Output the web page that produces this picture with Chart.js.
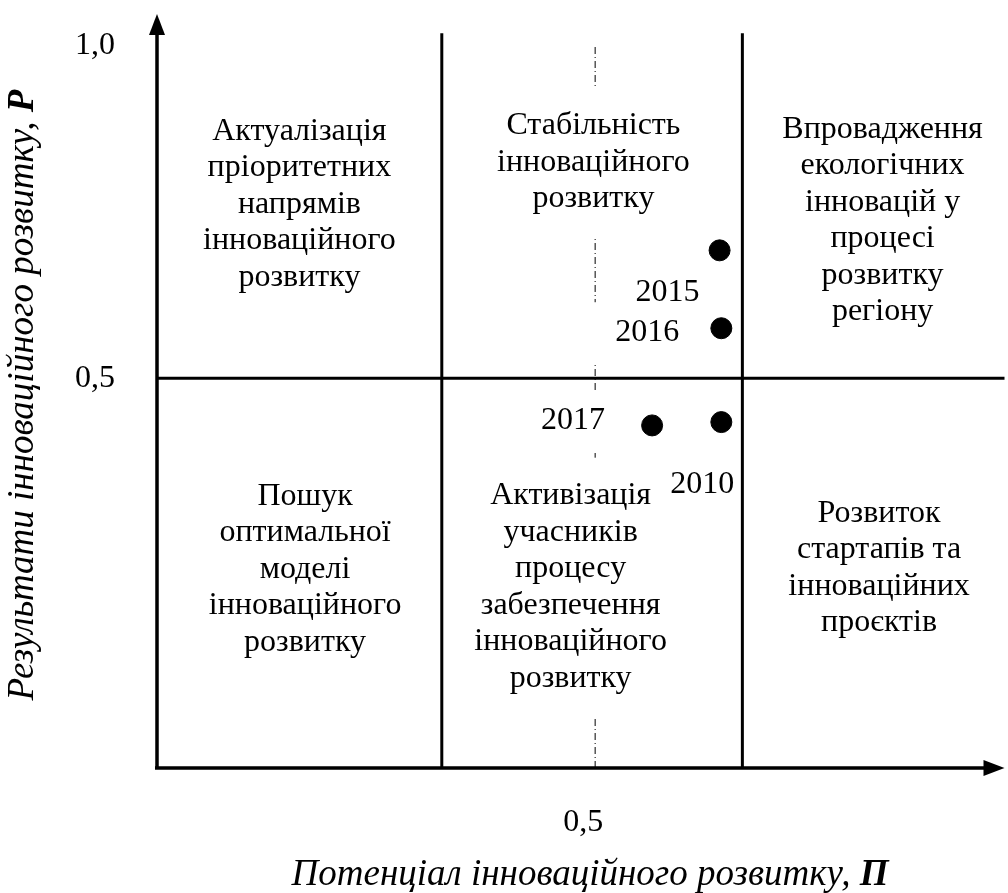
<!DOCTYPE html>
<html lang="uk">
<head>
<meta charset="utf-8">
<title>Матриця інноваційного розвитку</title>
<script src="https://cdn.jsdelivr.net/npm/chart.js"></script>
<style>
  html, body { margin: 0; padding: 0; background: #fff; }
  #wrap { width: 1008px; height: 893px; }
</style>
</head>
<body>
<div id="wrap"><canvas id="matrix" width="1008" height="893"></canvas></div>
<script>
// Роки та координати точок (П - потенціал, Р - результати)
const years = ['2015', '2016', '2017', '2010'];
const potential = [0.642, 0.644, 0.565, 0.644];
const results = [0.692, 0.575, 0.429, 0.434];

// Межі квадрантів
const xBounds = [0.325, 0.668];
const yBound = 0.5;
const midX = 0.5;

// Підписи осей
const yTicks = [0.5, 1.0];
const yTickLabels = ['0,5', '1,0'];
const xTicks = [0.5];
const xTickLabels = ['0,5'];

const yTitle = 'Результати інноваційного розвитку, ';
const yTitleBold = 'P';
const xTitle = 'Потенціал інноваційного розвитку, ';
const xTitleBold = 'П';

// Тексти квадрантів
const quadTexts = [
    ['Актуалізація', 'пріоритетних', 'напрямів', 'інноваційного', 'розвитку'],
    ['Стабільність', 'інноваційного', 'розвитку'],
    ['Впровадження', 'екологічних', 'інновацій у', 'процесі', 'розвитку', 'регіону'],
    ['Пошук', 'оптимальної', 'моделі', 'інноваційного', 'розвитку'],
    ['Активізація', 'учасників', 'процесу', 'забезпечення', 'інноваційного', 'розвитку'],
    ['Розвиток', 'стартапів та', 'інноваційних', 'проєктів']
];

// розміщення (центр блоку тексту в одиницях осей) - тільки макет
const quadPos = [
    [0.1625, 0.761], [0.498, 0.824], [0.828, 0.737],
    [0.169, 0.213], [0.472, 0.186], [0.824, 0.215]
];
const quadBox = [false, true, false, false, true, false];
// зсув підписів років від точки, px
const yearOffset = [[-52, 42], [-74, 4], [-79, -5], [-19, 63]];
const yearBox = [false, true, true, false];

const FONT = '"Liberation Serif", "Times New Roman", serif';
const FS = 32;
const TITLE_FS = 37;
const LH = 36.5;

const matrixPlugin = {
    id: 'matrix',
    beforeDatasetsDraw(chart) {
        const ctx = chart.ctx;
        const xs = chart.scales.x;
        const ys = chart.scales.y;
        const left = xs.getPixelForValue(0);
        const bottom = ys.getPixelForValue(ys.min);
        const top = ys.getPixelForValue(ys.max);
        const right = xs.getPixelForValue(xs.max);
        ctx.save();

        // пунктир посередині
        const mx = xs.getPixelForValue(midX);
        ctx.strokeStyle = '#000';
        ctx.lineWidth = 1;
        ctx.setLineDash([7, 3, 1, 3]);
        ctx.beginPath();
        ctx.moveTo(mx, bottom);
        ctx.lineTo(mx, ys.getPixelForValue(1.0));
        ctx.stroke();
        ctx.setLineDash([]);

        ctx.textAlign = 'center';
        ctx.textBaseline = 'middle';

        // тексти квадрантів
        ctx.font = FS + 'px ' + FONT;
        for (let q = 0; q < quadTexts.length; q++) {
            const lines = quadTexts[q];
            const cx = xs.getPixelForValue(quadPos[q][0]);
            const cy = ys.getPixelForValue(quadPos[q][1]);
            const h = lines.length * LH;
            if (quadBox[q]) {
                let w = 0;
                lines.forEach(l => { w = Math.max(w, ctx.measureText(l).width); });
                ctx.fillStyle = '#fff';
                ctx.fillRect(cx - w / 2 - 10, cy - h / 2 - 20, w + 20, h + 40);
            }
            ctx.fillStyle = '#000';
            lines.forEach((l, k) => {
                ctx.fillText(l, cx, cy - h / 2 + LH / 2 + k * LH);
            });
        }

        // підписи років
        for (let i = 0; i < years.length; i++) {
            const px = xs.getPixelForValue(potential[i]) + yearOffset[i][0];
            const py = ys.getPixelForValue(results[i]) + yearOffset[i][1];
            if (yearBox[i]) {
                ctx.fillStyle = '#fff';
                ctx.fillRect(px - 58, py - 30, 116, 60);
            }
            ctx.fillStyle = '#000';
            ctx.fillText(years[i], px, py);
        }

        // лінії квадрантів
        ctx.lineWidth = 3;
        const qTop = ys.getPixelForValue(1.018);
        xBounds.forEach(b => {
            const bx = xs.getPixelForValue(b);
            ctx.beginPath();
            ctx.moveTo(bx, bottom);
            ctx.lineTo(bx, qTop);
            ctx.stroke();
        });
        const hy = ys.getPixelForValue(yBound);
        ctx.beginPath();
        ctx.moveTo(left, hy);
        ctx.lineTo(right + 8, hy);
        ctx.stroke();

        // осі зі стрілками
        ctx.lineWidth = 3.5;
        ctx.beginPath();
        ctx.moveTo(left, bottom);
        ctx.lineTo(left, top + 16);
        ctx.moveTo(left - 2, bottom);
        ctx.lineTo(right - 10, bottom);
        ctx.stroke();
        ctx.fillStyle = '#000';
        ctx.beginPath();
        ctx.moveTo(left, top);
        ctx.lineTo(left - 8, top + 21);
        ctx.lineTo(left + 8, top + 21);
        ctx.closePath();
        ctx.fill();
        ctx.beginPath();
        ctx.moveTo(right + 8, bottom);
        ctx.lineTo(right - 13, bottom - 8);
        ctx.lineTo(right - 13, bottom + 8);
        ctx.closePath();
        ctx.fill();

        // значення на осях
        ctx.font = FS + 'px ' + FONT;
        yTicks.forEach((t, i) => {
            ctx.fillText(yTickLabels[i], 95, ys.getPixelForValue(t));
        });
        xTicks.forEach((t, i) => {
            ctx.fillText(xTickLabels[i], xs.getPixelForValue(t) - 12, bottom + 55);
        });

        // назви осей
        const it = 'italic ' + TITLE_FS + 'px ' + FONT;
        const bi = 'italic bold ' + TITLE_FS + 'px ' + FONT;
        ctx.textAlign = 'left';
        ctx.font = it;
        let w1 = ctx.measureText(xTitle).width;
        ctx.font = bi;
        let w2 = ctx.measureText(xTitleBold).width;
        let sx = 590 - (w1 + w2) / 2;
        ctx.font = it;
        ctx.fillText(xTitle, sx, bottom + 107);
        ctx.font = bi;
        ctx.fillText(xTitleBold, sx + w1, bottom + 107);

        ctx.translate(23, 395);
        ctx.rotate(-Math.PI / 2);
        ctx.font = it;
        w1 = ctx.measureText(yTitle).width;
        ctx.font = bi;
        w2 = ctx.measureText(yTitleBold).width;
        sx = -(w1 + w2) / 2;
        ctx.font = it;
        ctx.fillText(yTitle, sx, 0);
        ctx.font = bi;
        ctx.fillText(yTitleBold, sx + w1, 0);

        ctx.restore();
    }
};

const points = potential.map((p, i) => ({ x: p, y: results[i] }));

new Chart(document.getElementById('matrix'), {
    type: 'scatter',
    data: {
        datasets: [{
            label: 'Роки',
            data: points,
            backgroundColor: '#000',
            borderColor: '#000',
            pointRadius: 10.5,
            pointHoverRadius: 10.5
        }]
    },
    options: {
        responsive: false,
        animation: false,
        layout: { padding: { left: 157, right: 8, top: 14, bottom: 125 } },
        plugins: { legend: { display: false }, tooltip: { enabled: false } },
        scales: {
            x: { type: 'linear', min: 0, max: 0.958, display: false },
            y: { type: 'linear', min: -0.0856, max: 1.047, display: false }
        }
    },
    plugins: [matrixPlugin]
});
</script>
</body>
</html>
